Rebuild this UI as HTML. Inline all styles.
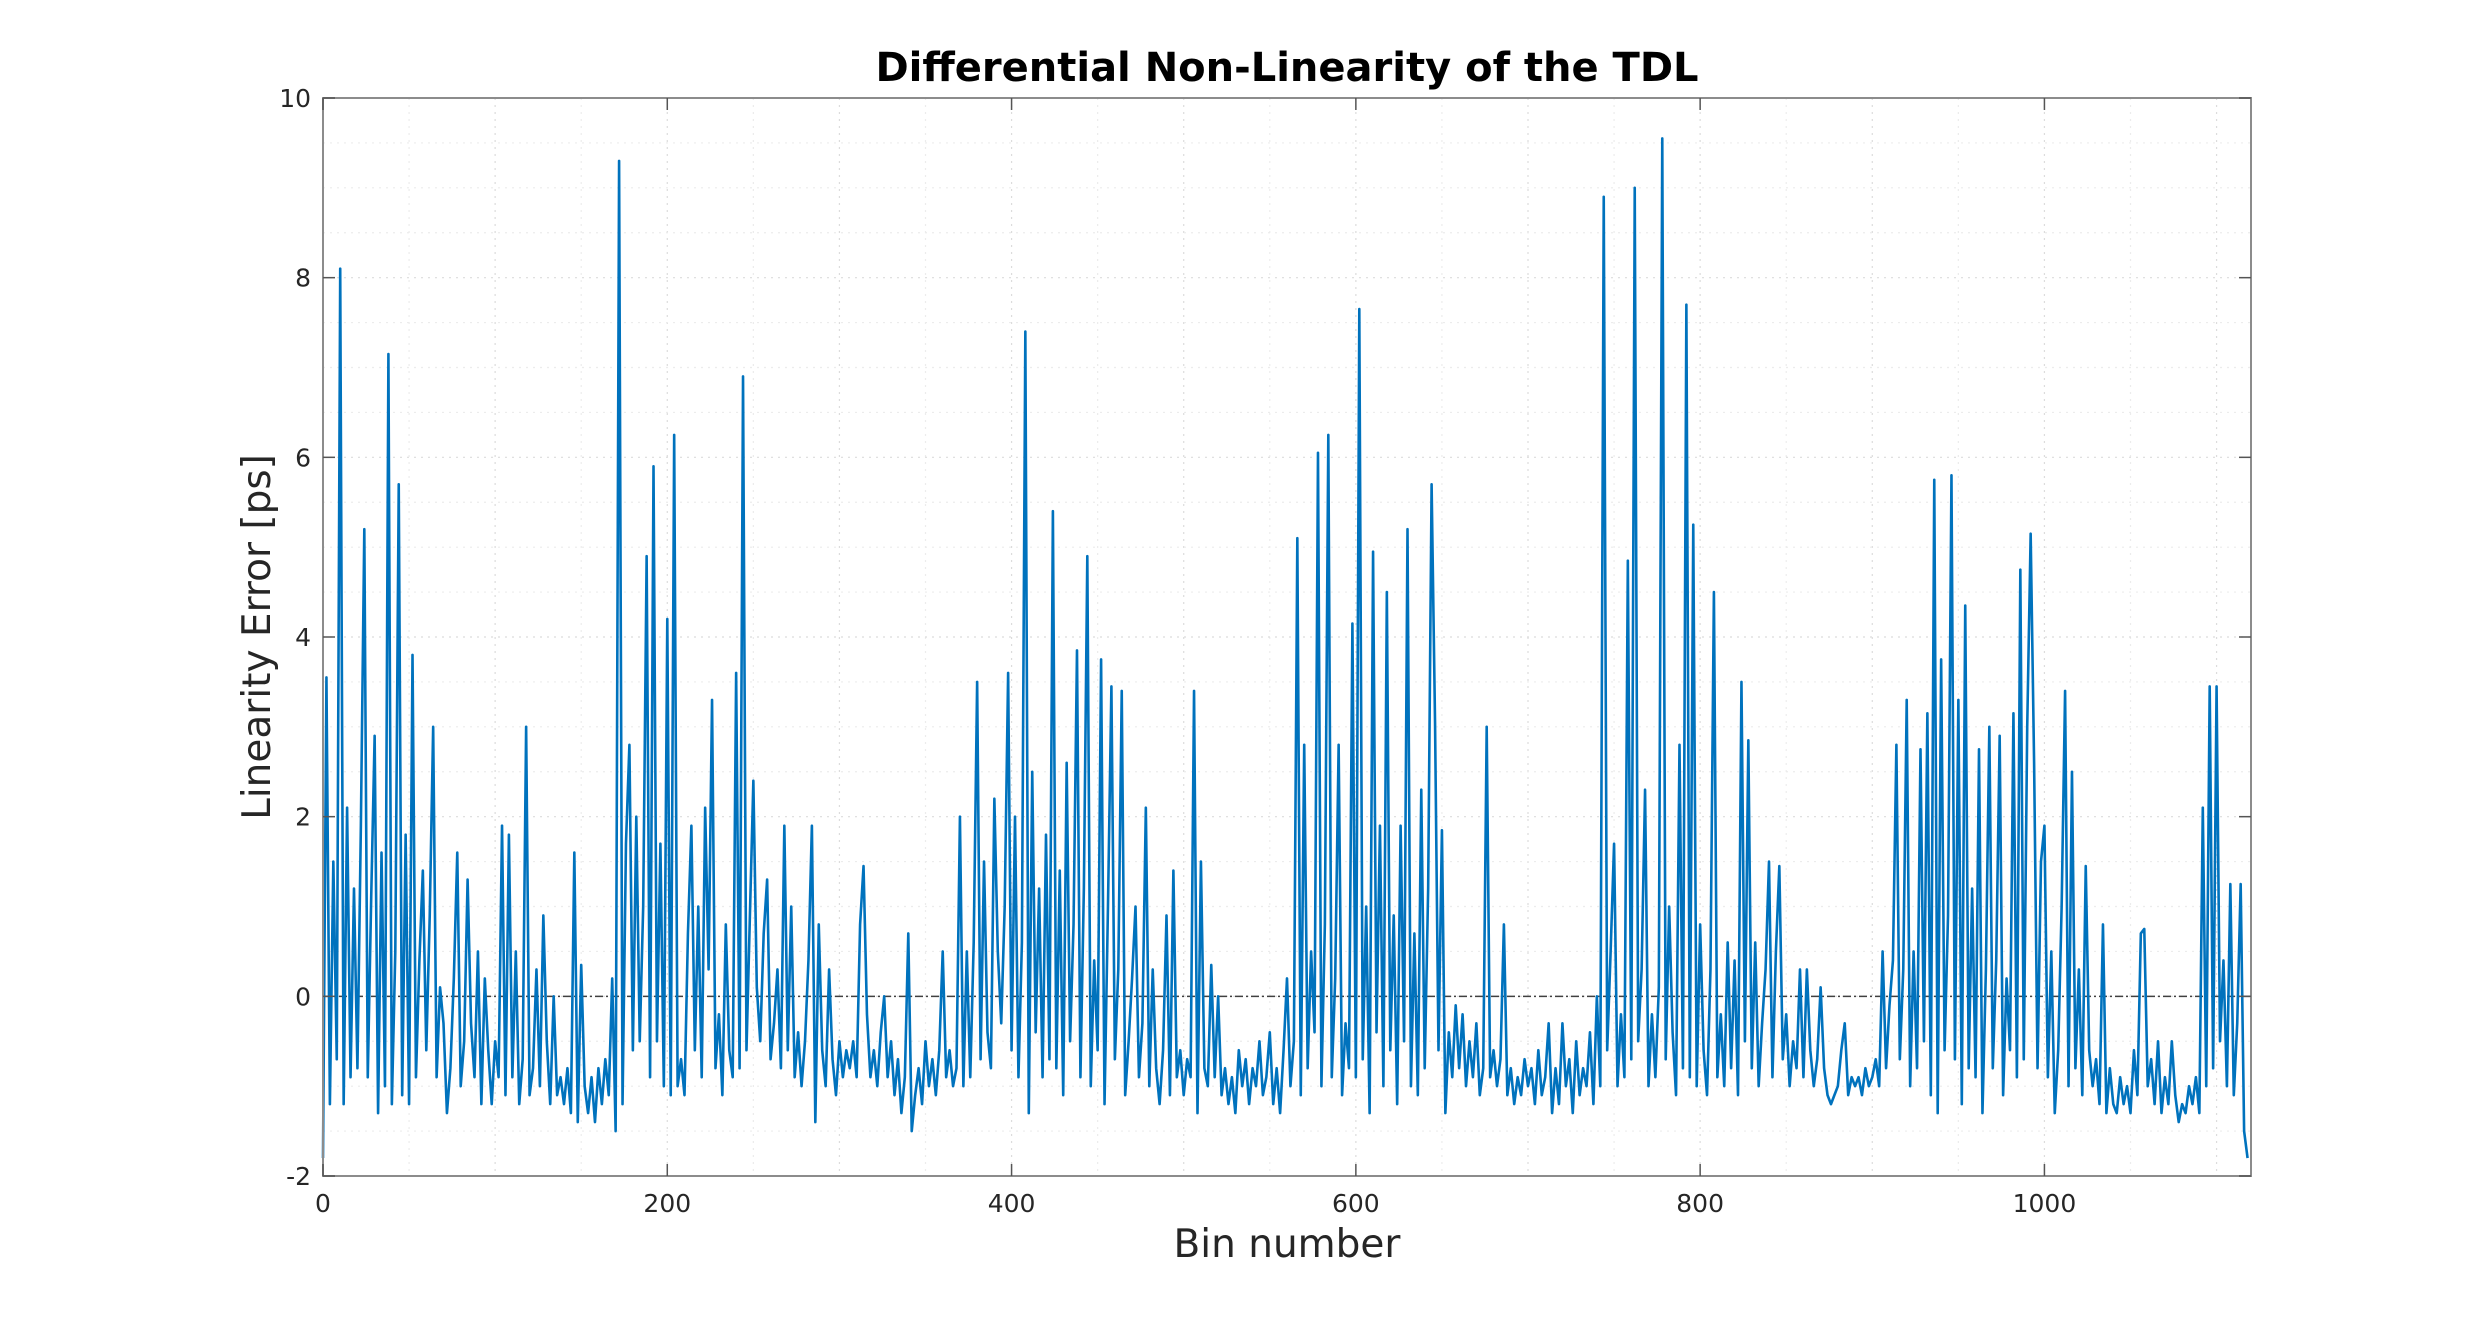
<!DOCTYPE html>
<html><head><meta charset="utf-8"><style>
html,body{margin:0;padding:0;background:#fff;}
svg{display:block;font-family:"DejaVu Sans","Liberation Sans",sans-serif;}
</style></head><body>
<svg id="chart" width="2488" height="1321" xmlns="http://www.w3.org/2000/svg">
<rect width="2488" height="1321" fill="#fff"/>
<text x="1287" y="81" text-anchor="middle" font-size="40" font-weight="bold" fill="#000">Differential Non-Linearity of the TDL</text>
<text x="1287" y="1257" text-anchor="middle" font-size="39" fill="#262626">Bin number</text>
<text transform="translate(270,637) rotate(-90)" text-anchor="middle" font-size="39" fill="#262626">Linearity Error [ps]</text>
<g id="grid"></g>
<g id="plot"></g>
<g id="axes"></g>
</svg>
<script>
const xTicks=[0,200,400,600,800,1000];
const yTicks=[-2,0,2,4,6,8,10];
const binStep=2;
const dnlValues=[
-1.8,3.55,-1.2,1.5,-0.7,8.1,-1.2,2.1,-0.9,1.2,-0.8,1.9,5.2,-0.9,1.1,2.9,-1.3,1.6,-1.0,7.15,
-1.2,0.5,5.7,-1.1,1.8,-1.2,3.8,-0.9,0.4,1.4,-0.6,0.9,3.0,-0.9,0.1,-0.3,-1.3,-0.8,0.2,1.6,
-1.0,-0.5,1.3,-0.3,-0.9,0.5,-1.2,0.2,-0.6,-1.2,-0.5,-0.9,1.9,-1.1,1.8,-0.9,0.5,-1.2,-0.7,3.0,
-1.1,-0.8,0.3,-1.0,0.9,-0.5,-1.2,0.0,-1.1,-0.9,-1.2,-0.8,-1.3,1.6,-1.4,0.35,-1.0,-1.3,-0.9,-1.4,
-0.8,-1.2,-0.7,-1.1,0.2,-1.5,9.3,-1.2,1.7,2.8,-0.6,2.0,-0.5,1.0,4.9,-0.9,5.9,-0.5,1.7,-1.0,
4.2,-1.1,6.25,-1.0,-0.7,-1.1,0.7,1.9,-0.6,1.0,-0.9,2.1,0.3,3.3,-0.8,-0.2,-1.1,0.8,-0.6,-0.9,
3.6,-0.8,6.9,-0.6,0.9,2.4,0.1,-0.5,0.7,1.3,-0.7,-0.3,0.3,-0.8,1.9,-0.6,1.0,-0.9,-0.4,-1.0,
-0.5,0.4,1.9,-1.4,0.8,-0.6,-1.0,0.3,-0.7,-1.1,-0.5,-0.9,-0.6,-0.8,-0.5,-0.9,0.8,1.45,-0.2,-0.9,
-0.6,-1.0,-0.4,0.0,-0.9,-0.5,-1.1,-0.7,-1.3,-0.9,0.7,-1.5,-1.1,-0.8,-1.2,-0.5,-1.0,-0.7,-1.1,-0.6,
0.5,-0.9,-0.6,-1.0,-0.8,2.0,-1.0,0.5,-0.9,0.6,3.5,-0.7,1.5,-0.4,-0.8,2.2,0.5,-0.3,1.0,3.6,
-0.6,2.0,-0.9,0.6,7.4,-1.3,2.5,-0.4,1.2,-0.9,1.8,-0.7,5.4,-0.8,1.4,-1.1,2.6,-0.5,0.8,3.85,
-0.9,1.2,4.9,-1.0,0.4,-0.6,3.75,-1.2,1.0,3.45,-0.7,0.3,3.4,-1.1,-0.5,0.2,1.0,-0.9,-0.3,2.1,
-1.0,0.3,-0.8,-1.2,-0.6,0.9,-1.1,1.4,-0.9,-0.6,-1.1,-0.7,-0.9,3.4,-1.3,1.5,-0.8,-1.0,0.35,-0.9,
0.0,-1.1,-0.8,-1.2,-0.9,-1.3,-0.6,-1.0,-0.7,-1.2,-0.8,-1.0,-0.5,-1.1,-0.9,-0.4,-1.2,-0.8,-1.3,-0.6,
0.2,-1.0,-0.5,5.1,-1.1,2.8,-0.8,0.5,-0.4,6.05,-1.0,0.8,6.25,-0.9,0.2,2.8,-1.1,-0.3,-0.8,4.15,
-0.9,7.65,-0.7,1.0,-1.3,4.95,-0.4,1.9,-1.0,4.5,-0.6,0.9,-1.2,1.9,-0.5,5.2,-1.0,0.7,-1.1,2.3,
-0.8,1.2,5.7,3.05,-0.6,1.85,-1.3,-0.4,-0.9,-0.1,-0.8,-0.2,-1.0,-0.5,-0.9,-0.3,-1.1,-0.8,3.0,-0.9,
-0.6,-1.0,-0.7,0.8,-1.1,-0.8,-1.2,-0.9,-1.1,-0.7,-1.0,-0.8,-1.2,-0.6,-1.1,-0.9,-0.3,-1.3,-0.8,-1.2,
-0.3,-1.0,-0.7,-1.3,-0.5,-1.1,-0.8,-1.0,-0.4,-1.2,0.0,-1.0,8.9,-0.6,0.5,1.7,-1.0,-0.2,-0.9,4.85,
-0.7,9.0,-0.5,0.3,2.3,-1.0,-0.2,-0.9,0.1,9.55,-0.7,1.0,-0.4,-1.1,2.8,-0.8,7.7,-0.9,5.25,-1.0,
0.8,-0.6,-1.1,0.3,4.5,-0.9,-0.2,-1.0,0.6,-0.8,0.4,-1.1,3.5,-0.5,2.85,-0.8,0.6,-1.0,-0.3,0.3,
1.5,-0.9,0.5,1.45,-0.7,-0.2,-1.0,-0.5,-0.8,0.3,-0.9,0.3,-0.6,-1.0,-0.7,0.1,-0.8,-1.1,-1.2,-1.1,
-1.0,-0.6,-0.3,-1.1,-0.9,-1.0,-0.9,-1.1,-0.8,-1.0,-0.9,-0.7,-1.0,0.5,-0.8,-0.1,0.4,2.8,-0.7,0.3,
3.3,-1.0,0.5,-0.8,2.75,-0.5,3.15,-1.1,5.75,-1.3,3.75,-0.6,0.9,5.8,-0.7,3.3,-1.2,4.35,-0.8,1.2,
-0.9,2.75,-1.3,0.3,3.0,-0.8,0.4,2.9,-1.1,0.2,-0.6,3.15,-0.9,4.75,-0.7,3.0,5.15,2.6,-0.8,1.5,
1.9,-0.9,0.5,-1.3,-0.6,1.0,3.4,-1.0,2.5,-0.8,0.3,-1.1,1.45,-0.6,-1.0,-0.7,-1.2,0.8,-1.3,-0.8,
-1.2,-1.3,-0.9,-1.2,-1.0,-1.3,-0.6,-1.1,0.7,0.75,-1.0,-0.7,-1.2,-0.5,-1.3,-0.9,-1.2,-0.5,-1.1,-1.4,
-1.2,-1.3,-1.0,-1.2,-0.9,-1.3,2.1,-1.0,3.45,-0.8,3.45,-0.5,0.4,-1.0,1.25,-1.1,-0.3,1.25,-1.5,-1.8
];
const NS='http://www.w3.org/2000/svg';
const L=323,R=2251,T=98,B=1176,xMin=0,xMax=1120,yMin=-2,yMax=10;
const sx=v=>L+(v-xMin)/(xMax-xMin)*(R-L);
const sy=v=>B-(v-yMin)/(yMax-yMin)*(B-T);
function mk(tag,attrs,parent){const e=document.createElementNS(NS,tag);for(const k in attrs)e.setAttribute(k,attrs[k]);parent.appendChild(e);return e;}
const grid=document.getElementById('grid'),plot=document.getElementById('plot'),axes=document.getElementById('axes');
for(let v=50;v<xMax;v+=50){const g=mk('line',{x1:sx(v),x2:sx(v),y1:T,y2:B,stroke:v%100===0?'#dcdcdc':'#ececec','stroke-width':1.2,'stroke-dasharray':'2,5'},grid);

}
for(let v=yMin+0.5;v<yMax;v+=0.5){const g=mk('line',{x1:L,x2:R,y1:sy(v),y2:sy(v),stroke:Number.isInteger(v/2)?'#dcdcdc':'#ececec','stroke-width':1.2,'stroke-dasharray':'2,5'},grid);

}
const z=mk('line',{x1:L,x2:R,y1:sy(0),y2:sy(0),stroke:'#404040','stroke-width':1.5,'stroke-dasharray':'8,3,2,3'},plot);


let d='';dnlValues.forEach((v,i)=>{d+=(i?'L':'M')+sx(i*binStep).toFixed(2)+' '+sy(v).toFixed(2);});
const p=mk('path',{d:d,fill:'none',stroke:'#0072BD','stroke-width':2.6,'stroke-linejoin':'round'},plot);


const box=mk('rect',{x:L,y:T,width:R-L,height:B-T,fill:'none',stroke:'#8c8c8c','stroke-width':2},axes);


xTicks.forEach(v=>{
 mk('line',{x1:sx(v),x2:sx(v),y1:B,y2:B-12,stroke:'#555','stroke-width':1.5},axes);
 mk('line',{x1:sx(v),x2:sx(v),y1:T,y2:T+12,stroke:'#555','stroke-width':1.5},axes);
 const t=mk('text',{x:sx(v),y:B+36,'text-anchor':'middle','font-size':25,fill:'#262626'},axes);
 t.textContent=v;
 
 
});
yTicks.forEach(v=>{
 mk('line',{x1:L,x2:L+12,y1:sy(v),y2:sy(v),stroke:'#555','stroke-width':1.5},axes);
 mk('line',{x1:R,x2:R-12,y1:sy(v),y2:sy(v),stroke:'#555','stroke-width':1.5},axes);
 const t=mk('text',{x:L-12,y:sy(v)+9,'text-anchor':'end','font-size':25,fill:'#262626'},axes);
 t.textContent=v;
 
 
});
</script>
</body></html>
